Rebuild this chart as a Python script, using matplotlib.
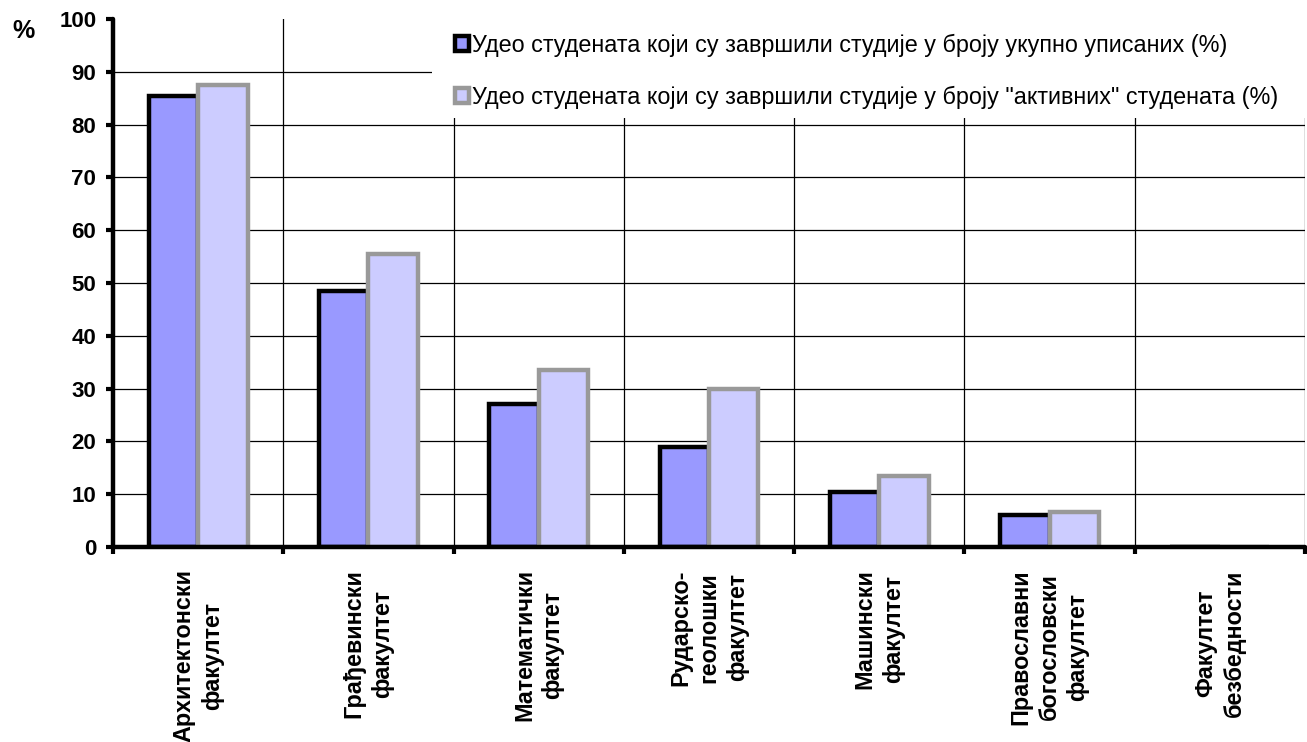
import matplotlib
matplotlib.use("Agg")
import matplotlib.pyplot as plt
from matplotlib.patches import Rectangle
import numpy as np

categories = ["Архитектонски\nфакултет", "Грађевински\nфакултет", "Математички\nфакултет",
              "Рударско-\nгеолошки\nфакултет", "Машински\nфакултет",
              "Православни\nбогословски\nфакултет", "Факултет\nбезбедности"]
series_total = [85.5, 48.5, 27.0, 19.0, 10.5, 6.0, 0.0]
series_active = [87.5, 55.5, 33.5, 30.0, 13.5, 6.7, 0.0]
label_total = "Удео студената који су завршили студије у броју укупно уписаних (%)"
label_active = "Удео студената који су завршили студије у броју \"активних\" студената (%)"
yticks = list(range(0, 101, 10))

plt.rcParams['font.family'] = ['Liberation Sans', 'DejaVu Sans']

fig = plt.figure(figsize=(13.07, 7.42), dpi=100)
ax = fig.add_axes([113/1307, 195/742, 1192/1307, 528/742])

x = np.arange(len(categories))
w = 0.29
ax.bar(x - w/2, series_total, width=w, color="#9999FF", edgecolor="black",
       linewidth=3.2, zorder=3, label=label_total)
ax.bar(x + w/2, series_active, width=w, color="#CCCCFF", edgecolor="#999999",
       linewidth=3.2, zorder=4, label=label_active)

ax.set_xlim(-0.5, len(categories) - 0.5)
ax.set_ylim(0, 100)
ax.set_yticks(yticks)
ax.set_yticklabels([str(v) for v in yticks], fontsize=16, fontweight='bold')
ax.set_xticks(x)
ax.set_xticklabels(categories, rotation=90, fontsize=16.8, fontweight='bold',
                   ha='center', va='top', multialignment='center', linespacing=1.3)
ax.set_xticks(np.arange(-0.5, len(categories)), minor=True)
ax.tick_params(axis='x', which='major', length=0, pad=16)
ax.tick_params(axis='x', which='minor', length=5, width=3, direction='out')
ax.tick_params(axis='y', length=5, width=3, direction='out', pad=7)

ax.grid(axis='y', which='major', color='black', linewidth=0.9, zorder=0)
ax.grid(axis='x', which='minor', color='black', linewidth=0.9, zorder=0)
ax.set_axisbelow(True)
ax.yaxis.get_gridlines()[-1].set_visible(False)

for s in ['top', 'right']:
    ax.spines[s].set_visible(False)
for s in ['left', 'bottom']:
    ax.spines[s].set_linewidth(3.2)
    ax.spines[s].set_zorder(5)
    ax.spines[s].set_capstyle('round')

# white area behind legend
ax.add_patch(Rectangle((0.268, 0.8125), 0.8, 0.3, transform=ax.transAxes,
                       facecolor='white', edgecolor='none', zorder=1, clip_on=False))

leg = ax.legend(loc='upper left', bbox_to_anchor=(0.2795, 0.99), frameon=False,
                fontsize=16.8, handlelength=0.6, handleheight=0.6, handletextpad=0.12,
                labelspacing=1.25, borderaxespad=0)
leg.set_zorder(6)

fig.text(12/1307, 1 - 31/742, "%", fontsize=18, fontweight='bold', va='center', ha='left')

fig.savefig("out.png", dpi=100)
